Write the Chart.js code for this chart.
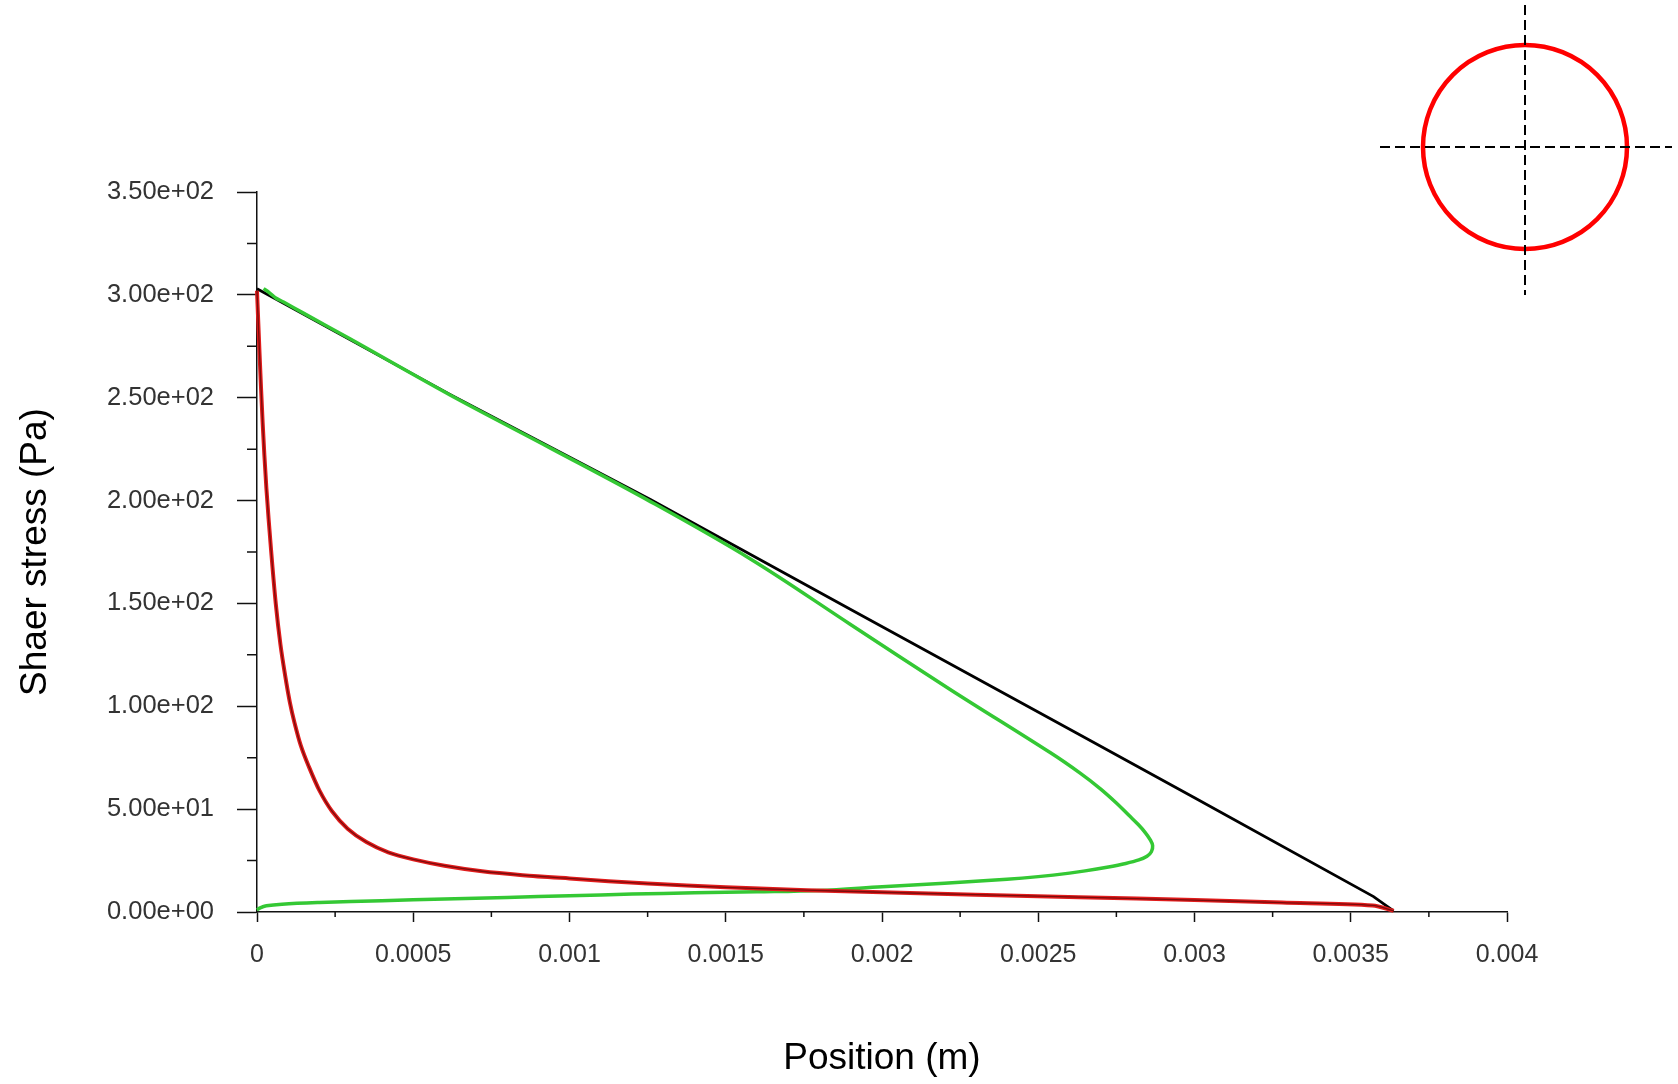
<!DOCTYPE html>
<html>
<head>
<meta charset="utf-8">
<title>Shear stress profile</title>
<script src="https://cdn.jsdelivr.net/npm/chart.js@4.4.1/dist/chart.umd.min.js"></script>
<style>
    html, body { margin: 0; padding: 0; background: #fff; }
    #wrap { position: relative; width: 1678px; height: 1084px; }
    #marker { position: absolute; left: 0; top: 0; }
</style>
</head>
<body>
<div id="wrap">
    <canvas id="chartStress"></canvas>
    <!-- pipe cross-section sketch, top right -->
    <svg id="marker" width="1678" height="320" xmlns="http://www.w3.org/2000/svg">
        <circle cx="1525" cy="147" r="102" fill="none" stroke="#ff0000" stroke-width="4.5" />
        <line x1="1380" y1="147" x2="1672" y2="147" stroke="#000" stroke-width="2" stroke-dasharray="10 5" />
        <line x1="1525" y1="5" x2="1525" y2="295" stroke="#000" stroke-width="2" stroke-dasharray="10 5" />
    </svg>
</div>

<script>
//Axis ticks
var xTickLabels = ["0", "0.0005", "0.001", "0.0015", "0.002", "0.0025", "0.003", "0.0035", "0.004"];
var yTickLabels = ["0.00e+00", "5.00e+01", "1.00e+02", "1.50e+02", "2.00e+02", "2.50e+02", "3.00e+02", "3.50e+02"];
var xMinorTicks = [0.00025, 0.00075, 0.00125, 0.00175, 0.00225, 0.00275, 0.00325, 0.00375];
var yMinorTicks = [25, 75, 125, 175, 225, 275, 325];

//Black curve
var blackX = [0, 0.000619, 0.001259, 0.0019, 0.002634, 0.003, 0.003573, 0.003637];
var blackY = [303, 251.5, 200.5, 147, 86, 55.5, 7.5, 0.5];

//Red curve
var redX = [0, 0.000008, 0.000018, 0.00003, 0.000045, 0.00006, 0.000075, 0.00009, 0.000105, 0.00012,
    0.00014, 0.000165, 0.0002, 0.00024, 0.00029, 0.00035, 0.00042, 0.0005, 0.0006, 0.00072,
    0.00085, 0.001, 0.00125, 0.0015, 0.00176, 0.002, 0.0023, 0.00263, 0.003, 0.00328, 0.00357, 0.003637];
var redY = [302, 272, 238, 206, 176, 150, 130, 115, 102, 92,
    81, 71, 59, 49, 40.5, 34, 29, 25.6, 22.5, 19.8,
    17.9, 16.3, 13.8, 12, 10.6, 9.6, 8.4, 7.2, 5.8, 4.6, 3.2, 0.6];

//Green curve (goes down along the black line, turns near 0.00287 and comes back along the bottom)
var greenX = [0.000021, 0.00004, 0.00006, 0.000085, 0.00015, 0.000299, 0.000619, 0.000939, 0.001259, 0.001579,
    0.001898, 0.002218, 0.002538, 0.002634, 0.002698, 0.00275, 0.00279, 0.00282, 0.002843, 0.002858,
    0.002866, 0.002862, 0.002848, 0.002822, 0.00278, 0.00272, 0.00265, 0.0026, 0.0025, 0.0024,
    0.0022, 0.002, 0.0018, 0.0016, 0.0014, 0.0012, 0.001, 0.0008, 0.0006, 0.0004,
    0.0002, 0.00008, 0.00003, 0.00001, 0];
var greenY = [303, 301, 298.5, 296.5, 291, 278.5, 251.2, 225.5, 199.5, 171.6,
    139.9, 108.2, 77.5, 67.5, 60, 53, 47, 42.5, 38.5, 35.2,
    32.3, 29.3, 27.1, 25.3, 23.6, 21.8, 20, 18.9, 17.2, 15.9,
    14, 12.3, 10.5, 9.8, 9.3, 8.7, 7.9, 7.1, 6.3, 5.5,
    4.6, 3.8, 3, 2, 1];

function ToPoints(xs, ys) {
    var arr = [];
    for (var i = 0; i < xs.length; i++) {
        arr.push({ x: xs[i], y: ys[i] });
    }
    return arr;
}

var fontFamily = "'Liberation Sans', Arial, sans-serif";

//Short minor ticks between the labelled ones
var minorTicksPlugin = {
    id: 'minorTicks',
    afterDraw: function (chart) {
        var ctx = chart.ctx;
        var xs = chart.scales.x;
        var ys = chart.scales.y;
        ctx.save();
        ctx.strokeStyle = '#111';
        ctx.lineWidth = 1.5;
        ctx.beginPath();
        for (var i = 0; i < xMinorTicks.length; i++) {
            var px = xs.getPixelForValue(xMinorTicks[i]);
            ctx.moveTo(px, xs.top);
            ctx.lineTo(px, xs.top + 5);
        }
        for (var j = 0; j < yMinorTicks.length; j++) {
            var py = ys.getPixelForValue(yMinorTicks[j]);
            ctx.moveTo(ys.right, py);
            ctx.lineTo(ys.right - 10, py);
        }
        ctx.stroke();
        ctx.restore();
    }
};

document.addEventListener('DOMContentLoaded', function () {
    var canvas = document.getElementById('chartStress');
    canvas.style.width = '1678px';
    canvas.style.height = '1084px';

    var chart = new Chart(canvas, {
        type: 'scatter',
        data: {
            datasets: [{
                label: 'red core',
                data: ToPoints(redX, redY),
                showLine: true,
                borderColor: '#7a0c0c',
                borderWidth: 1.3,
                pointRadius: 0,
                tension: 0.3,
                clip: false
            }, {
                label: 'red',
                data: ToPoints(redX, redY),
                showLine: true,
                borderColor: '#e01c1c',
                borderWidth: 4,
                pointRadius: 0,
                tension: 0.3,
                clip: false
            }, {
                label: 'green',
                data: ToPoints(greenX, greenY),
                showLine: true,
                borderColor: '#34c834',
                borderWidth: 3.5,
                pointRadius: 0,
                tension: 0.35,
                clip: false
            }, {
                label: 'black',
                data: ToPoints(blackX, blackY),
                showLine: true,
                borderColor: '#000000',
                borderWidth: 2.8,
                pointRadius: 0,
                tension: 0,
                clip: false
            }]
        },
        options: {
            responsive: false,
            maintainAspectRatio: false,
            animation: false,
            layout: {
                padding: { top: 192, right: 171, left: 0, bottom: 0 }
            },
            plugins: {
                legend: { display: false },
                tooltip: { enabled: false }
            },
            scales: {
                x: {
                    type: 'linear',
                    min: 0,
                    max: 0.004,
                    border: { color: '#111', width: 1.5 },
                    grid: {
                        drawOnChartArea: false,
                        tickLength: 10,
                        tickColor: '#111',
                        tickWidth: 1.5
                    },
                    ticks: {
                        stepSize: 0.0005,
                        autoSkip: false,
                        maxRotation: 0,
                        padding: 18,
                        color: '#333',
                        font: { family: fontFamily, size: 25 },
                        callback: function (value) {
                            return xTickLabels[Math.round(value / 0.0005)];
                        }
                    },
                    title: {
                        display: true,
                        text: 'Position (m)',
                        color: '#000',
                        font: { family: fontFamily, size: 37, lineHeight: 1.2 },
                        padding: { top: 0, bottom: 3 }
                    },
                    afterFit: function (scale) {
                        scale.height = 172;
                    }
                },
                y: {
                    type: 'linear',
                    min: 0,
                    max: 350,
                    border: { color: '#111', width: 1.5 },
                    grid: {
                        drawOnChartArea: false,
                        tickLength: 20,
                        tickColor: '#111',
                        tickWidth: 1.5
                    },
                    ticks: {
                        stepSize: 50,
                        autoSkip: false,
                        padding: 23,
                        color: '#333',
                        font: { family: fontFamily, size: 25.5 },
                        callback: function (value) {
                            return yTickLabels[Math.round(value / 50)];
                        }
                    },
                    title: {
                        display: true,
                        text: 'Shaer stress (Pa)',
                        color: '#000',
                        font: { family: fontFamily, size: 37, lineHeight: 1.2 },
                        padding: { top: 14, bottom: 0 }
                    },
                    afterFit: function (scale) {
                        scale.width = 257;
                    }
                }
            }
        },
        plugins: [minorTicksPlugin]
    });
});
</script>
</body>
</html>
